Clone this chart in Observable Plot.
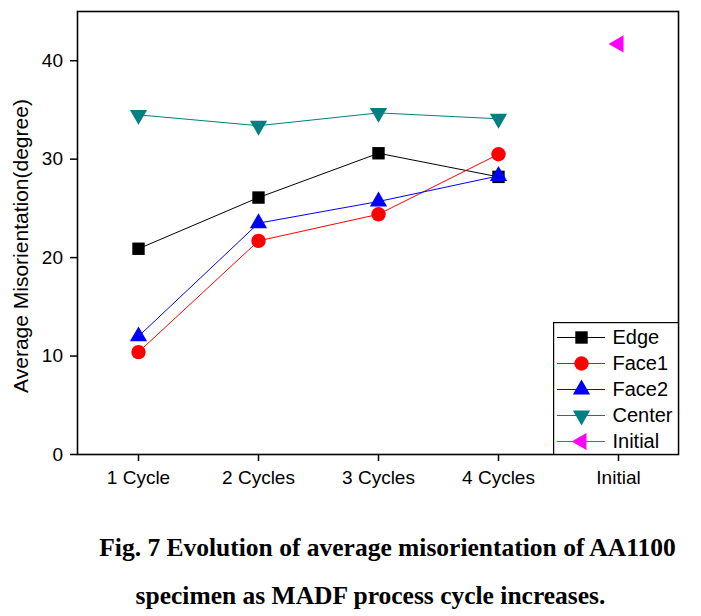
<!DOCTYPE html>
<html>
<head>
<meta charset="utf-8">
<script src="https://cdn.jsdelivr.net/npm/d3@7"></script>
<script src="https://cdn.jsdelivr.net/npm/@observablehq/plot@0.6"></script>
<style>
  html, body { margin: 0; padding: 0; background: #fff; }
  #wrap { position: relative; width: 701px; }
  #legend { position: absolute; left: 553px; top: 322px; }
  #caption { font-family: "Times New Roman", "Liberation Serif", serif; font-weight: bold; font-size: 25.5px;
             line-height: 48px; padding-top: 24px; color: #000; }
  #caption div { text-align: center; width: 701px; box-sizing: border-box; white-space: nowrap; }
</style>
</head>
<body>
<div id="wrap">
  <div id="chart"></div>
  <div id="legend"></div>
  <div id="caption">
    <div style="padding-left:74px">Fig. 7 Evolution of average misorientation of AA1100</div>
    <div style="padding-left:40px">specimen as MADF process cycle increases.</div>
  </div>
</div>
<script>
// ---- data ----
const cycles = ["1 Cycle", "2 Cycles", "3 Cycles", "4 Cycles", "Initial"];
const seriesNames = ["Edge", "Face1", "Face2", "Center", "Initial"];
const edge = [20.9, 26.1, 30.6, 28.2];
const face1 = [10.4, 21.7, 24.4, 30.5];
const face2 = [12.0, 23.5, 25.7, 28.3];
const center = [34.5, 33.4, 34.7, 34.1];
const initial = [41.7];
const yTicks = [0, 10, 20, 30, 40];
const yLabel = "Average Misorientation(degree)";
const colors = ["#000000", "#ff0000", "#0000ff", "#008080", "#ff00ff"];

// custom symbols
const triDown = { draw(ctx, size) { const y = -Math.sqrt(size / (Math.sqrt(3) * 3)); ctx.moveTo(0, -y * 2); ctx.lineTo(-Math.sqrt(3) * y, y); ctx.lineTo(Math.sqrt(3) * y, y); ctx.closePath(); } };
const triLeft = { draw(ctx, size) { const y = -Math.sqrt(size / (Math.sqrt(3) * 3)); ctx.moveTo(y * 2, 0); ctx.lineTo(-y, -Math.sqrt(3) * y); ctx.lineTo(-y, Math.sqrt(3) * y); ctx.closePath(); } };
const symbols = ["square", "circle", "triangle", triDown, triLeft];
const radii = [7, 7.2, 6.4, 6.4, 6.4];

const allValues = [edge, face1, face2, center, initial];
const series = seriesNames.map((name, i) => ({
  name, color: colors[i], symbol: symbols[i], r: radii[i],
  data: allValues[i].map((v, j) => ({ cycle: name === "Initial" ? "Initial" : cycles[j], value: v }))
}));

const font = "Arial, 'Liberation Sans', sans-serif";

const marks = [
  Plot.axisX({ tickSize: 7, tickPadding: 9, fontSize: 19, label: null, strokeWidth: 1.5 }),
  Plot.axisY({ ticks: yTicks, tickSize: 7, tickPadding: 7.5, fontSize: 19, strokeWidth: 1.5, label: null }),
  Plot.text([yLabel], { text: d => d, frameAnchor: "left", textAnchor: "middle", lineAnchor: "middle", rotate: -90, dx: -56, dy: 13, fontSize: 21, fill: "#000" }),
];
for (const s of series) {
  if (s.data.length > 1) marks.push(Plot.line(s.data, { x: "cycle", y: "value", stroke: s.color, strokeWidth: 1 }));
}
for (const s of series) {
  marks.push(Plot.dot(s.data, { x: "cycle", y: "value", fill: s.color, stroke: "none", symbol: s.symbol, r: s.r }));
}
marks.push(Plot.frame({ stroke: "#000", strokeWidth: 1.6 }));

const chart = Plot.plot({
  width: 701, height: 500,
  marginLeft: 77, marginRight: 23, marginTop: 11, marginBottom: 46,
  style: { fontFamily: font, fontSize: "19px", color: "#000", background: "#fff" },
  x: { type: "point", domain: cycles, padding: 0.5 },
  y: { domain: [0, 45] },
  marks
});
document.getElementById("chart").appendChild(chart);

// ---- legend ----
const legMarks = [];
series.forEach((s) => {
  legMarks.push(Plot.ruleY([s.name], { y: d => d, stroke: s.color, strokeWidth: 1, insetLeft: 4, insetRight: 73 }));
  legMarks.push(Plot.dot([s.name], { y: d => d, frameAnchor: "left", dx: 28, fill: s.color, stroke: "none", symbol: s.symbol, r: s.r }));
});
legMarks.push(Plot.text(seriesNames, { y: d => d, text: d => d, frameAnchor: "left", dx: 59, textAnchor: "start", fontSize: 20, fill: "#000" }));
legMarks.push(Plot.frame({ stroke: "#000", strokeWidth: 1.4 }));
const legend = Plot.plot({
  width: 125, height: 132,
  marginLeft: 0, marginRight: 0, marginTop: 0, marginBottom: 0,
  style: { fontFamily: font, background: "#fff" },
  y: { type: "point", domain: seriesNames, padding: 0, insetTop: 14, insetBottom: 12, axis: null },
  marks: legMarks
});
document.getElementById("legend").appendChild(legend);
</script>
</body>
</html>
